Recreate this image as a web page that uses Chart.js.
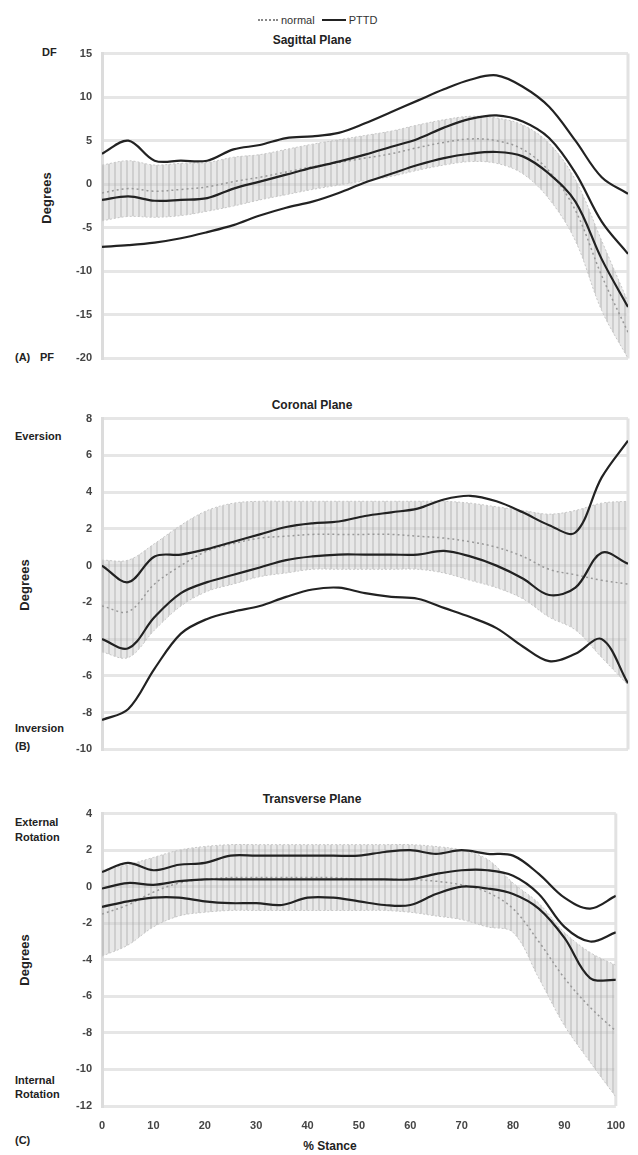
<!DOCTYPE html>
<html>
<head>
<meta charset="utf-8">
<script src="https://cdn.jsdelivr.net/npm/chart.js"></script>
<style>
  body { margin: 0; background: #fff; font-family: "Liberation Sans", Arial, sans-serif; }
  #fig { position: relative; width: 638px; height: 1155px; overflow: hidden; }
  canvas { position: absolute; left: 0; }
  .t { position: absolute; white-space: nowrap; color: #222; font-size: 11px; line-height: 13px; font-weight: bold; }
  .ttl { font-size: 12px; transform: translate(-50%, -50%); }
  .deg { font-size: 13px; transform: translate(-50%, -50%) rotate(-90deg); }
  .leg { position: absolute; top: 14px; left: 258px; font-size: 11px; color: #333; white-space: nowrap; }
  .leg i { display: inline-block; vertical-align: middle; margin: 0 3px 2px 0; }
</style>
</head>
<body>
<div id="fig">
  <div class="leg"><i style="width:20px;border-top:2px dotted #888"></i>normal <i style="width:24px;border-top:2px solid #222;margin-left:4px"></i>PTTD</div>
  <div class="t ttl" style="left:312px;top:40px">Sagittal Plane</div>
  <div class="t ttl" style="left:312px;top:405px">Coronal Plane</div>
  <div class="t ttl" style="left:312px;top:799px">Transverse Plane</div>

  <div class="t deg" style="left:46px;top:198px">Degrees</div>
  <div class="t deg" style="left:24px;top:585px">Degrees</div>
  <div class="t deg" style="left:24px;top:960px">Degrees</div>

  <div class="t" style="left:42px;top:46px">DF</div>
  <div class="t" style="left:40px;top:351px">PF</div>
  <div class="t" style="left:15px;top:351px">(A)</div>
  <div class="t" style="left:15px;top:430px">Eversion</div>
  <div class="t" style="left:15px;top:722px">Inversion</div>
  <div class="t" style="left:15px;top:740px">(B)</div>
  <div class="t" style="left:15px;top:815px;line-height:15px">External<br>Rotation</div>
  <div class="t" style="left:15px;top:1073px;line-height:14px">Internal<br>Rotation</div>
  <div class="t" style="left:15px;top:1134px">(C)</div>
  <div class="t ttl" style="left:330px;top:1146px;font-size:12px">% Stance</div>

  <canvas id="sag" width="638" height="338" style="top:37px"></canvas>
  <canvas id="cor" width="638" height="364" style="top:402px"></canvas>
  <canvas id="trn" width="638" height="361" style="top:797px"></canvas>
</div>
<script>
// % stance, every 5 %
const stance = [0, 5, 10, 15, 20, 25, 30, 35, 40, 45, 50, 55, 60, 65, 70, 75, 80, 85, 90, 95, 100];

// sagittal plane (DF +, PF -)
const sagNormUpper = [2.2, 2.7, 2.2, 2.4, 2.5, 3.1, 3.4, 4.0, 4.6, 5.1, 5.6, 6.1, 6.8, 7.4, 7.8, 7.6, 6.8, 4.7, 0.5, -6.5, -13.5];
const sagNormLower = [-4.2, -3.7, -3.8, -3.6, -3.1, -2.5, -1.8, -1.2, -0.6, -0.1, 0.4, 0.9, 1.6, 2.2, 2.6, 2.4, 1.2, -1.7, -6.5, -14.5, -20.0];
const sagNormMean = [-1.0, -0.5, -0.8, -0.6, -0.3, 0.3, 0.8, 1.4, 2.0, 2.5, 3.0, 3.5, 4.2, 4.8, 5.2, 5.0, 4.0, 1.5, -3.0, -10.5, -17.0];
const sagPttdUpper = [3.5, 5.0, 2.7, 2.7, 2.7, 4.0, 4.5, 5.3, 5.5, 5.9, 7.0, 8.3, 9.6, 10.9, 12.0, 12.5, 11.2, 8.9, 5.0, 0.8, -1.1];
const sagPttdMean = [-1.8, -1.4, -1.9, -1.8, -1.6, -0.5, 0.3, 1.1, 1.9, 2.6, 3.4, 4.3, 5.2, 6.5, 7.5, 7.9, 7.2, 5.3, 1.3, -4.3, -8.0];
const sagPttdLower = [-7.2, -7.0, -6.7, -6.2, -5.5, -4.7, -3.6, -2.7, -2.0, -1.0, 0.2, 1.2, 2.2, 3.0, 3.5, 3.7, 3.2, 1.2, -2.0, -8.6, -14.1];

// coronal plane (eversion +, inversion -)
const corNormUpper = [0.3, 0.3, 1.2, 2.2, 3.0, 3.4, 3.5, 3.5, 3.5, 3.5, 3.5, 3.5, 3.5, 3.5, 3.4, 3.2, 3.0, 2.8, 3.0, 3.4, 3.5];
const corNormLower = [-4.7, -5.0, -3.5, -2.2, -1.4, -1.0, -0.6, -0.4, -0.2, -0.2, -0.2, -0.2, -0.2, -0.4, -0.8, -1.2, -1.8, -2.8, -3.5, -5.0, -6.5];
const corNormMean = [-2.2, -2.5, -1.0, 0.0, 0.8, 1.2, 1.5, 1.6, 1.7, 1.7, 1.7, 1.7, 1.6, 1.5, 1.3, 1.0, 0.5, -0.2, -0.5, -0.8, -1.0];
const corPttdUpper = [0.0, -0.9, 0.5, 0.6, 0.9, 1.3, 1.7, 2.1, 2.3, 2.4, 2.7, 2.9, 3.1, 3.6, 3.8, 3.5, 2.9, 2.2, 1.8, 4.8, 6.8];
const corPttdMean = [-4.0, -4.5, -2.8, -1.5, -0.9, -0.5, -0.1, 0.3, 0.5, 0.6, 0.6, 0.6, 0.6, 0.8, 0.5, 0.0, -0.7, -1.6, -1.2, 0.7, 0.1];
const corPttdLower = [-8.4, -7.8, -5.6, -3.7, -2.9, -2.5, -2.2, -1.7, -1.3, -1.2, -1.5, -1.7, -1.8, -2.3, -2.8, -3.4, -4.4, -5.2, -4.8, -4.0, -6.4];

// transverse plane (external rotation +, internal rotation -)
const trnNormUpper = [0.9, 1.2, 1.6, 2.0, 2.2, 2.3, 2.3, 2.3, 2.3, 2.3, 2.3, 2.3, 2.3, 2.2, 2.0, 1.5, 0.2, -0.9, -2.5, -3.6, -4.3];
const trnNormLower = [-3.8, -3.2, -2.2, -1.6, -1.4, -1.3, -1.3, -1.3, -1.3, -1.3, -1.3, -1.3, -1.4, -1.6, -1.8, -2.2, -2.5, -5.0, -7.6, -9.6, -11.5];
const trnNormMean = [-1.5, -1.0, -0.3, 0.2, 0.4, 0.5, 0.5, 0.5, 0.5, 0.5, 0.4, 0.4, 0.4, 0.3, 0.1, -0.3, -1.2, -3.0, -5.0, -6.6, -7.9];
const trnPttdUpper = [0.8, 1.3, 0.9, 1.2, 1.3, 1.7, 1.7, 1.7, 1.7, 1.7, 1.7, 1.9, 2.0, 1.8, 2.0, 1.8, 1.7, 0.7, -0.6, -1.2, -0.5];
const trnPttdMean = [-0.1, 0.2, 0.1, 0.3, 0.4, 0.4, 0.4, 0.4, 0.4, 0.4, 0.4, 0.4, 0.4, 0.7, 0.9, 0.9, 0.6, -0.4, -2.2, -3.0, -2.5];
const trnPttdLower = [-1.1, -0.8, -0.6, -0.6, -0.8, -0.9, -0.9, -1.0, -0.6, -0.6, -0.8, -1.0, -1.0, -0.4, 0.0, -0.1, -0.4, -1.2, -2.8, -5.0, -5.1];

Chart.defaults.font.family = '"Liberation Sans", Arial, sans-serif';
Chart.defaults.animation = false;

// striped grey fill for the normal band
function stripes() {
  const c = document.createElement("canvas");
  c.width = 6; c.height = 6;
  const g = c.getContext("2d");
  g.fillStyle = "rgba(205,205,205,0.45)";
  g.fillRect(0, 0, 6, 6);
  g.fillStyle = "rgba(160,160,160,0.35)";
  g.fillRect(0, 0, 2, 6);
  return g.createPattern(c, "repeat");
}

const frame = {
  id: "frame",
  beforeDatasetsDraw(chart) {
    const a = chart.chartArea, g = chart.ctx;
    g.save();
    g.strokeStyle = "#e2e2e2";
    g.lineWidth = 3;
    g.beginPath();
    g.moveTo(a.right, a.top);
    g.lineTo(a.right, a.bottom);
    g.stroke();
    g.restore();
  }
};

function pts(vals) {
  return stance.map((s, i) => ({ x: s, y: vals[i] }));
}

function panel(id, yMin, yMax, step, nu, nl, nm, pu, pm, pl, showX) {
  // order: normal band underneath, PTTD lines on top
  const pttd = { borderColor: "#222", borderWidth: 2.2, fill: false, order: 1 };
  new Chart(document.getElementById(id), {
    type: "line",
    data: {
      datasets: [
        { data: pts(nu), borderColor: "#c8c8c8", borderWidth: 1, borderDash: [2, 2], fill: "+1", backgroundColor: stripes(), order: 3 },
        { data: pts(nl), borderColor: "#c8c8c8", borderWidth: 1, borderDash: [2, 2], fill: false, order: 3 },
        { data: pts(nm), borderColor: "#999", borderWidth: 1.5, borderDash: [2, 3], fill: false, order: 2 },
        Object.assign({ data: pts(pu) }, pttd),
        Object.assign({ data: pts(pm) }, pttd),
        Object.assign({ data: pts(pl) }, pttd)
      ]
    },
    options: {
      responsive: false,
      layout: { padding: { top: 12, right: 10, bottom: showX ? 0 : 12, left: 0 } },
      elements: { point: { radius: 0 }, line: { tension: 0.35 } },
      plugins: { legend: { display: false }, tooltip: { enabled: false }, filler: { drawTime: "beforeDatasetsDraw" } },
      scales: {
        x: {
          type: "linear", min: 0, max: 100,
          display: showX,
          grid: { display: false, drawTicks: false },
          border: { display: false },
          ticks: { stepSize: 10, padding: 13, color: "#444", font: { size: 11, weight: "bold" } },
          afterFit: s => { if (showX) s.height = 52; }
        },
        y: {
          min: yMin, max: yMax,
          grid: { color: "#e6e6e6", lineWidth: 3, drawTicks: false },
          border: { display: true, color: "#dcdcdc", width: 3 },
          ticks: { stepSize: step, padding: 10, color: "#444", font: { size: 11, weight: "bold" } },
          afterFit: s => { s.width = 102; }
        }
      }
    },
    plugins: [frame]
  });
}

panel("sag", -20, 15, 5, sagNormUpper, sagNormLower, sagNormMean, sagPttdUpper, sagPttdMean, sagPttdLower, false);
panel("cor", -10, 8, 2, corNormUpper, corNormLower, corNormMean, corPttdUpper, corPttdMean, corPttdLower, false);
panel("trn", -12, 4, 2, trnNormUpper, trnNormLower, trnNormMean, trnPttdUpper, trnPttdMean, trnPttdLower, true);
</script>
</body>
</html>
